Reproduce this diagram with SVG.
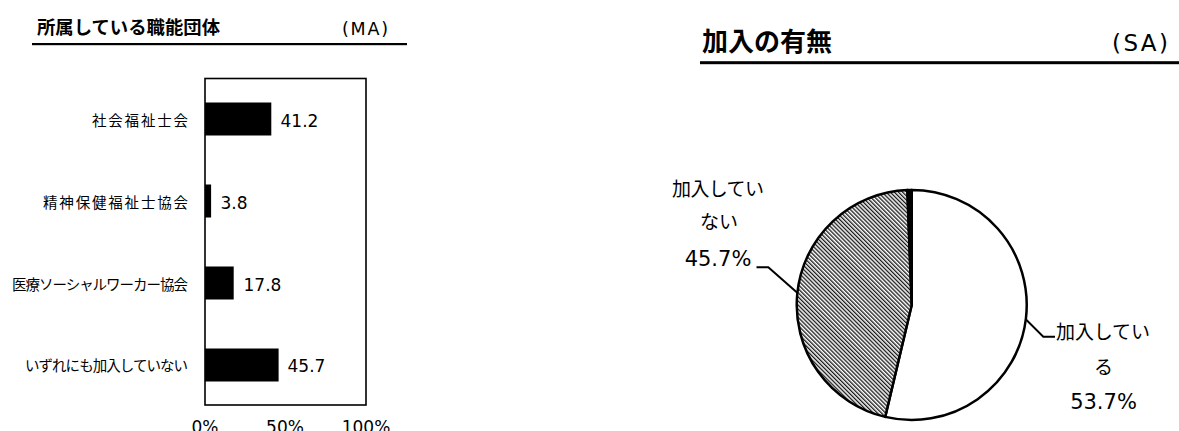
<svg xmlns="http://www.w3.org/2000/svg" width="1179" height="431" viewBox="0 0 1179 431">
<defs>
<style>
.jp{font-family:"Noto Sans CJK JP","Noto Sans",sans-serif;fill:#000}
.num{font-family:"DejaVu Sans","Noto Sans CJK JP",sans-serif;fill:#000}
.ttl{font-weight:700}
.bar{fill:#000}
.pie{stroke:#000;stroke-width:2.5;stroke-linejoin:round}
.lead{fill:none;stroke:#000;stroke-width:2}
</style>
<pattern id="hatch" width="2.9" height="2.9" patternUnits="userSpaceOnUse" patternTransform="rotate(-45)">
<rect width="2.9" height="2.9" fill="#fff"/>
<line x1="0.7" y1="0" x2="0.7" y2="2.9" stroke="#000" stroke-width="1.2"/>
</pattern>
</defs>
<rect width="1179" height="431" fill="#fff"/>

<g id="bar-chart-title">
<text class="jp ttl" x="37" y="33.5" font-size="18" textLength="183" lengthAdjust="spacingAndGlyphs">所属している職能団体</text>
<text class="num" x="342" y="34.5" font-size="17.5" textLength="46">(MA)</text>
<rect x="32" y="43" width="375" height="2.2" fill="#000"/>
</g>

<g id="bar-frame">
<rect x="205" y="78.5" width="161" height="326.5" fill="#fff" stroke="#000" stroke-width="1.6"/>
</g>

<g id="bar-1">
<text class="jp" x="188" y="125.5" font-size="14.5" text-anchor="end" textLength="96">社会福祉士会</text>
<rect class="bar" x="205" y="102.5" width="66.3" height="33"/>
<text class="num" x="280.5" y="126.5" font-size="17">41.2</text>
</g>
<g id="bar-2">
<text class="jp" x="188" y="207.5" font-size="14.5" text-anchor="end" textLength="145">精神保健福祉士協会</text>
<rect class="bar" x="205" y="184.5" width="6.1" height="33"/>
<text class="num" x="220.5" y="208.5" font-size="17">3.8</text>
</g>
<g id="bar-3">
<text class="jp" x="188" y="289.5" font-size="14.5" text-anchor="end" textLength="176">医療ソーシャルワーカー協会</text>
<rect class="bar" x="205" y="266.5" width="28.7" height="33"/>
<text class="num" x="243.5" y="290.5" font-size="17">17.8</text>
</g>
<g id="bar-4">
<text class="jp" x="188" y="371" font-size="14.5" text-anchor="end" textLength="163">いずれにも加入していない</text>
<rect class="bar" x="205" y="348.5" width="73.6" height="33"/>
<text class="num" x="287.5" y="372" font-size="17">45.7</text>
</g>

<g id="bar-axis">
<text class="num" x="205" y="432.5" font-size="17" text-anchor="middle">0%</text>
<text class="num" x="285" y="432.5" font-size="17" text-anchor="middle">50%</text>
<text class="num" x="366" y="432.5" font-size="17" text-anchor="middle">100%</text>
</g>

<g id="pie-title">
<text class="jp ttl" x="702" y="50.5" font-size="26" textLength="130" lengthAdjust="spacingAndGlyphs">加入の有無</text>
<text class="num" x="1112" y="51" font-size="23" textLength="56">(SA)</text>
<rect x="700" y="61.2" width="479" height="3" fill="#000"/>
</g>

<g id="pie-joined">
<path class="pie" fill="#fff" d="M911.7,305 L911.7,190 A115,115 0 1 1 885.2,416.9 Z"/>
</g>
<g id="pie-not-joined">
<path class="pie" fill="url(#hatch)" d="M911.7,305 L885.2,416.9 A115,115 0 0 1 907.37,190.08 Z"/>
</g>
<g id="pie-other">
<path class="pie" fill="#000" d="M911.7,305 L907.37,190.08 A115,115 0 0 1 911.7,190 Z"/>
</g>

<g id="connectors">
<polyline class="lead" points="756.5,267.3 768.3,267.3 797,292.5"/>
<polyline class="lead" points="1026.5,320 1043.3,336.7 1055,336.7"/>
</g>

<g id="label-not-joined">
<text class="jp" x="672" y="195.5" font-size="19" textLength="92">加入してい</text>
<text class="jp" x="719" y="229" font-size="19" text-anchor="middle">ない</text>
<text class="num" x="718" y="266" font-size="21" text-anchor="middle">45.7%</text>
</g>
<g id="label-joined">
<text class="jp" x="1056" y="339" font-size="19" textLength="94">加入してい</text>
<text class="jp" x="1103.5" y="374" font-size="19" text-anchor="middle">る</text>
<text class="num" x="1103.5" y="409" font-size="21" text-anchor="middle">53.7%</text>
</g>
</svg>
